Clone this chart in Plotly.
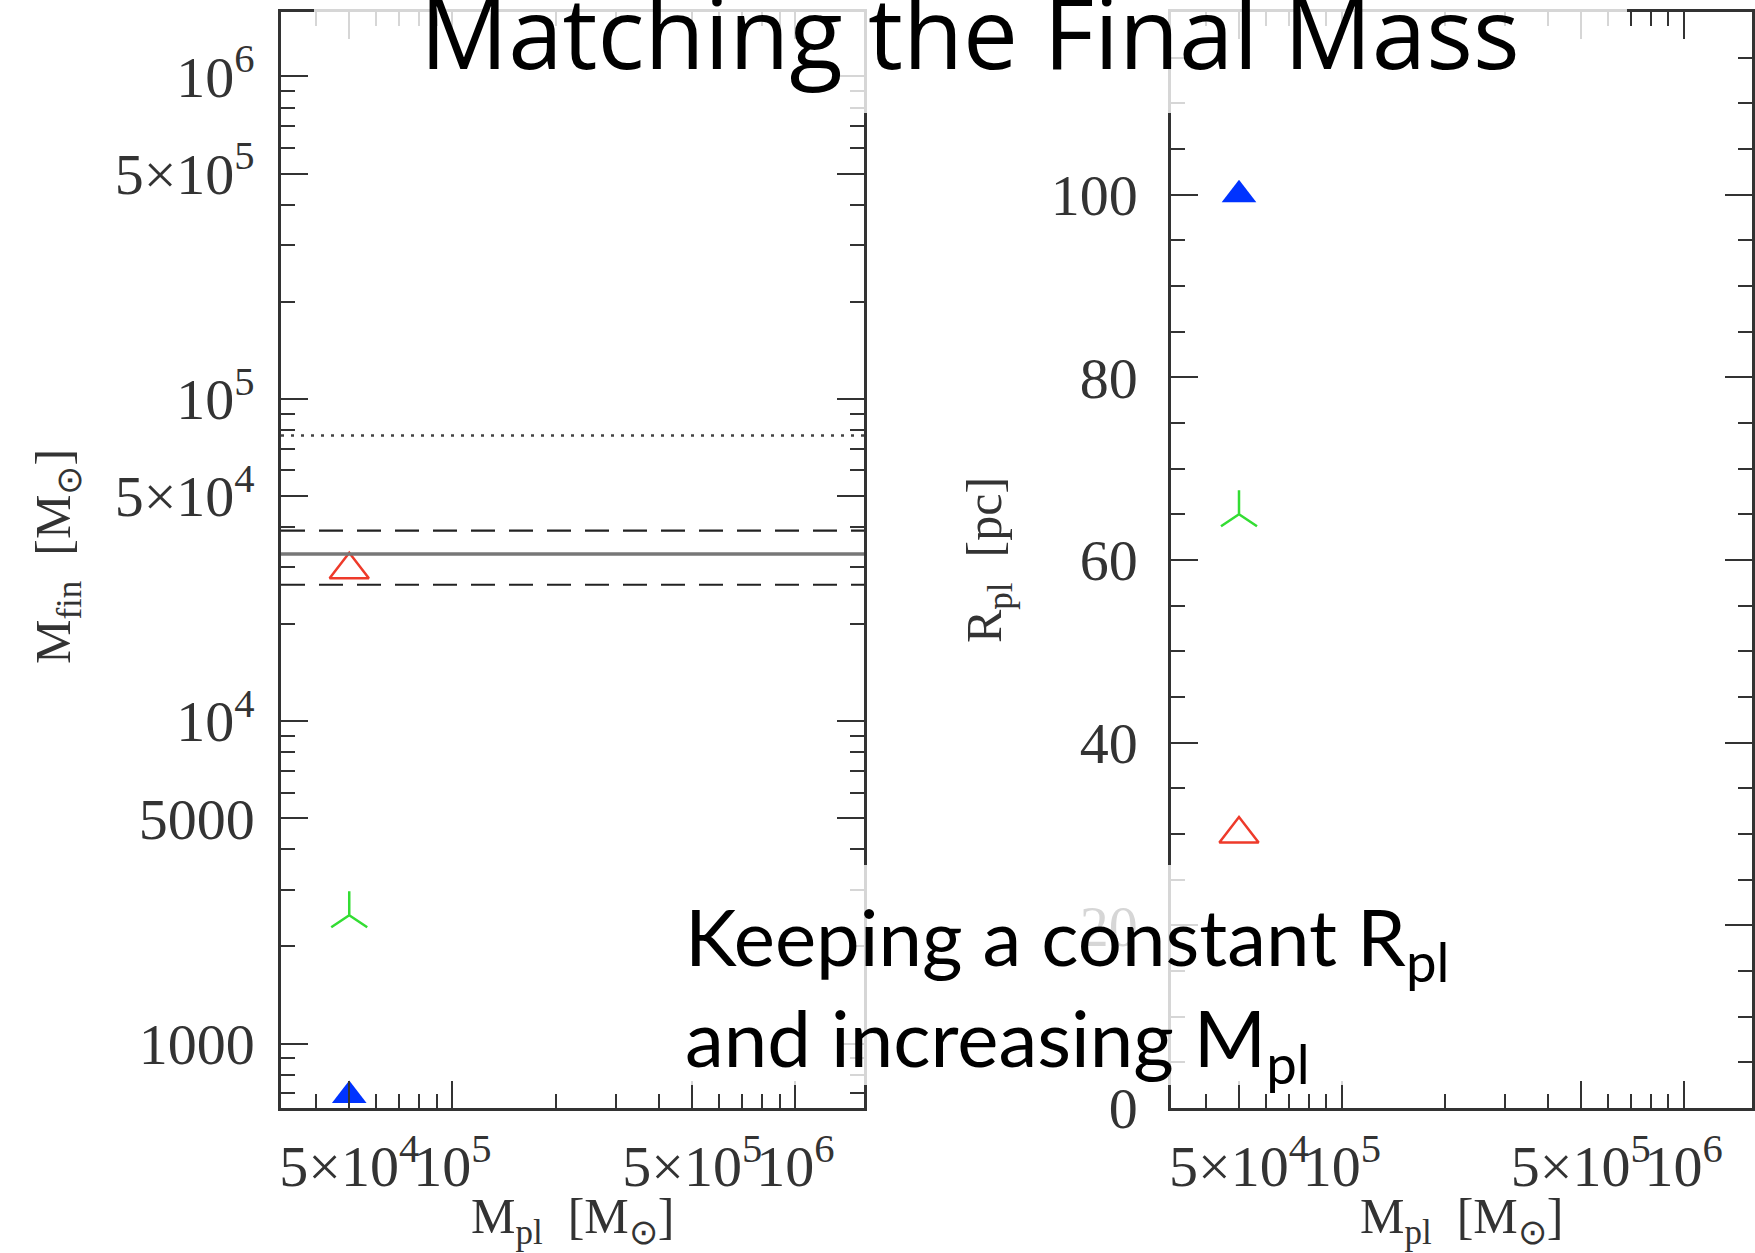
import plotly.graph_objects as go

W, H = 1755, 1253

# ---------------- data ----------------
M_pl = [5e4, 5e4, 5e4]            # planet-cluster mass (x) for the three runs
M_fin = [2.95e4, 2.5e3, 6.9e2]     # final mass (left panel)
R_pl = [30, 65, 100]               # Plummer radius (right panel)

M_obs = 3.3e4                      # solid reference line
M_obs_lo = 2.65e4                  # dashed lower bound
M_obs_hi = 3.9e4                   # dashed upper bound
M_dot = 7.7e4                      # dotted line

x_major = [5e4, 1e5, 5e5, 1e6]
x_major_text = ["5×10<sup>4</sup>", "10<sup>5</sup>", "5×10<sup>5</sup>", "10<sup>6</sup>"]
x_minor = [4e4, 6e4, 7e4, 8e4, 9e4, 2e5, 3e5, 4e5, 6e5, 7e5, 8e5, 9e5]

y1_major = [1e3, 5e3, 1e4, 5e4, 1e5, 5e5, 1e6]
y1_major_text = ["1000", "5000", "10<sup>4</sup>", "5×10<sup>4</sup>", "10<sup>5</sup>",
                 "5×10<sup>5</sup>", "10<sup>6</sup>"]
y1_minor = [7e2, 8e2, 9e2, 2e3, 3e3, 4e3, 6e3, 7e3, 8e3, 9e3, 2e4, 3e4, 4e4, 6e4, 7e4,
            8e4, 9e4, 2e5, 3e5, 4e5, 6e5, 7e5, 8e5, 9e5]

y2_major = [0, 20, 40, 60, 80, 100, 120]

# ---------------- styles ----------------
styles = [
    dict(symbol="triangle-up-open", size=34, color="#ee3a2a", line=dict(width=2.5, color="#ee3a2a")),
    dict(symbol="y-up", size=30, color="#33dd33", line=dict(width=2.5, color="#33dd33")),
    dict(symbol="triangle-up", size=30, color="#0033ff", line=dict(width=0)),
]

AX = "#333333"
TICKFONT = dict(family="Liberation Serif", size=58, color="#333333")

fig = go.Figure()

for i, st in enumerate(styles):
    fig.add_trace(go.Scatter(x=[M_pl[i]], y=[M_fin[i]], mode="markers", marker=st,
                             xaxis="x", yaxis="y", showlegend=False, cliponaxis=False))
    fig.add_trace(go.Scatter(x=[M_pl[i]], y=[R_pl[i]], mode="markers", marker=st,
                             xaxis="x2", yaxis="y2", showlegend=False, cliponaxis=False))

def px(x):
    return x / W

def py(y):
    return 1 - y / H

common_axis = dict(showline=True, linecolor=AX, linewidth=2.5, mirror="ticks",
                   ticks="inside", tickcolor=AX, tickwidth=2, ticklen=27,
                   showgrid=False, zeroline=False, tickfont=TICKFONT,
                   automargin=False, tickangle=0)

xlog = dict(type="log", range=[4.5, 6.2], tickmode="array", tickvals=x_major,
            ticktext=x_major_text, ticklabelstandoff=6,
            minor=dict(tickmode="array", tickvals=x_minor, ticks="inside", ticklen=14,
                       tickwidth=2, tickcolor=AX, showgrid=False),
            **common_axis)

fig.update_layout(
    width=W, height=H, margin=dict(l=0, r=0, t=0, b=0, autoexpand=False),
    paper_bgcolor="white", plot_bgcolor="white", showlegend=False,
    xaxis=dict(domain=[px(281), px(864)], anchor="y", **xlog),
    xaxis2=dict(domain=[px(1171), px(1752)], anchor="y2", **xlog),
    yaxis=dict(domain=[py(1108), py(12)], anchor="x", type="log", range=[2.8, 6.2],
               tickmode="array", tickvals=y1_major, ticktext=y1_major_text,
               ticklabelstandoff=12,
               minor=dict(tickmode="array", tickvals=y1_minor, ticks="inside", ticklen=14,
                          tickwidth=2, tickcolor=AX, showgrid=False),
               **common_axis),
    yaxis2=dict(domain=[py(1108), py(12)], anchor="x2", range=[0, 120],
                tickmode="array", tickvals=y2_major, ticklabelstandoff=19,
                minor=dict(dtick=5, tick0=0, ticks="inside", ticklen=14,
                           tickwidth=2, tickcolor=AX, showgrid=False),
                **common_axis),
)

# reference lines in the left panel
line_specs = [
    (M_dot, dict(color="#444444", width=2.5, dash="3px,7px")),
    (M_obs_hi, dict(color="#222222", width=2.2, dash="24px,14px")),
    (M_obs, dict(color="#777777", width=3.5)),
    (M_obs_lo, dict(color="#222222", width=2.2, dash="24px,14px")),
]
for yv, ln in line_specs:
    fig.add_shape(type="line", xref="x domain", yref="y", x0=0, x1=1, y0=yv, y1=yv,
                  line=ln, layer="above")

# translucent white boxes behind the slide text
fig.add_shape(type="rect", xref="paper", yref="paper", x0=px(314), x1=px(1627),
              y0=py(113), y1=1, fillcolor="white", opacity=0.8, line=dict(width=0),
              layer="above")
fig.add_shape(type="rect", xref="paper", yref="paper", x0=px(662), x1=px(1573),
              y0=py(1085), y1=py(865), fillcolor="white", opacity=0.8, line=dict(width=0),
              layer="above")

LABFONT = dict(family="Liberation Serif", size=50, color="#333333")
sp = "\u00a0\u00a0"
annos = [
    dict(text="M<sub>pl</sub>" + sp + "[M<sub>⊙</sub>]", x=px(572), y=py(1220),
         xanchor="center", yanchor="middle", font=LABFONT),
    dict(text="M<sub>pl</sub>" + sp + "[M<sub>⊙</sub>]", x=px(1461), y=py(1220),
         xanchor="center", yanchor="middle", font=LABFONT),
    dict(text="M<sub>fin</sub>" + sp + "[M<sub>⊙</sub>]", x=px(57), y=py(557),
         xanchor="center", yanchor="middle", textangle=-90, font=LABFONT),
    dict(text="R<sub>pl</sub>" + sp + "[pc]", x=px(988), y=py(560),
         xanchor="center", yanchor="middle", textangle=-90, font=LABFONT),
    dict(text="Matching the Final Mass", x=px(970), y=py(31), xanchor="center",
         yanchor="middle", font=dict(family="Open Sans", size=98, color="black")),
    dict(text="Keeping a constant R<sub>pl</sub><br>and increasing M<sub>pl</sub>",
         x=px(683), y=py(992), xanchor="left", yanchor="middle", align="left",
         font=dict(family="Lato", size=78, color="black")),
]
for a in annos:
    fig.add_annotation(xref="paper", yref="paper", showarrow=False, **a)

fig.write_html("out.html")
